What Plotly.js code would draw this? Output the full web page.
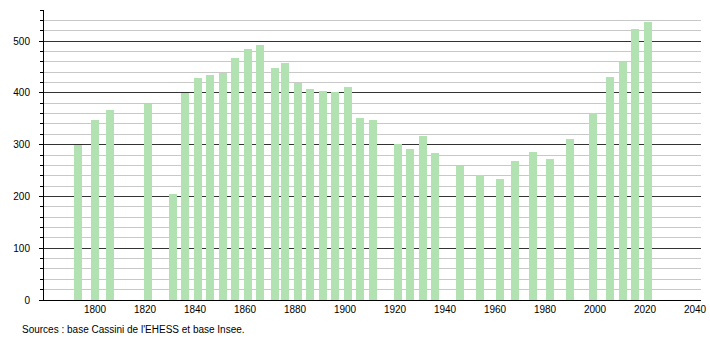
<!DOCTYPE html>
<html>
<head>
<meta charset="utf-8">
<script src="https://cdn.plot.ly/plotly-3.0.1.min.js"></script>
<style>html,body{margin:0;padding:0;background:#fff;}#chart{width:710px;height:340px;}</style>
</head>
<body>
<div id="chart"></div>
<script>
const years = [1793, 1800, 1806, 1821, 1831, 1836, 1841, 1846, 1851, 1856, 1861, 1866, 1872, 1876, 1881, 1886, 1891, 1896, 1901, 1906, 1911, 1921, 1926, 1931, 1936, 1946, 1954, 1962, 1968, 1975, 1982, 1990, 1999, 2006, 2011, 2016, 2021];
const population = [300, 348, 366, 379, 204, 399, 428, 435, 439, 468, 484, 492, 448, 457, 419, 408, 404, 402, 412, 351, 348, 302, 292, 316, 283, 259, 241, 234, 269, 285, 273, 310, 362, 430, 460, 524, 536];
const xTicks = [1800, 1820, 1840, 1860, 1880, 1900, 1920, 1940, 1960, 1980, 2000, 2020, 2040];
const yTicks = [0, 100, 200, 300, 400, 500];
const sourceText = "Sources : base Cassini de l'EHESS et base Insee.";

const trace = {
  type: 'bar',
  x: years,
  y: population,
  width: 3.2,
  marker: {color: 'rgb(178,226,178)', line: {width: 0}},
  hoverinfo: 'x+y'
};

const layout = {
  width: 710, height: 340,
  margin: {l: 44, r: 9, t: 10, b: 40, pad: 0},
  paper_bgcolor: '#fff', plot_bgcolor: '#fff',
  font: {family: 'Liberation Sans, Arial, sans-serif', size: 10, color: '#000'},
  showlegend: false,
  bargap: 0,
  xaxis: {
    range: [1779.6, 2042.4],
    tickvals: xTicks,
    ticktext: xTicks.map(String),
    showgrid: false,
    zeroline: false,
    showline: true, linecolor: '#000', linewidth: 1,
    ticks: '',
    ticklabelstandoff: 0,
    fixedrange: true
  },
  yaxis: {
    range: [0, 560],
    tickvals: yTicks,
    ticktext: yTicks.map(String),
    showgrid: true, gridcolor: '#333', gridwidth: 1,
    zeroline: false,
    showline: true, linecolor: '#000', linewidth: 1,
    ticks: 'outside', ticklen: 4, tickcolor: '#000', tickwidth: 1,
    ticklabelstandoff: 7,
    minor: {dtick: 20, tick0: 0, showgrid: true, gridcolor: '#c8c8c8', gridwidth: 1, ticks: 'outside', ticklen: 3, tickcolor: '#000'},
    fixedrange: true
  },
  annotations: [{
    text: sourceText,
    xref: 'paper', yref: 'paper',
    x: -24/657, y: -29/290,
    xanchor: 'left', yanchor: 'middle',
    showarrow: false,
    font: {family: 'Liberation Sans, Arial, sans-serif', size: 10, color: '#000'}
  }]
};

Plotly.newPlot('chart', [trace], layout, {displayModeBar: false, staticPlot: true});
</script>
</body>
</html>
